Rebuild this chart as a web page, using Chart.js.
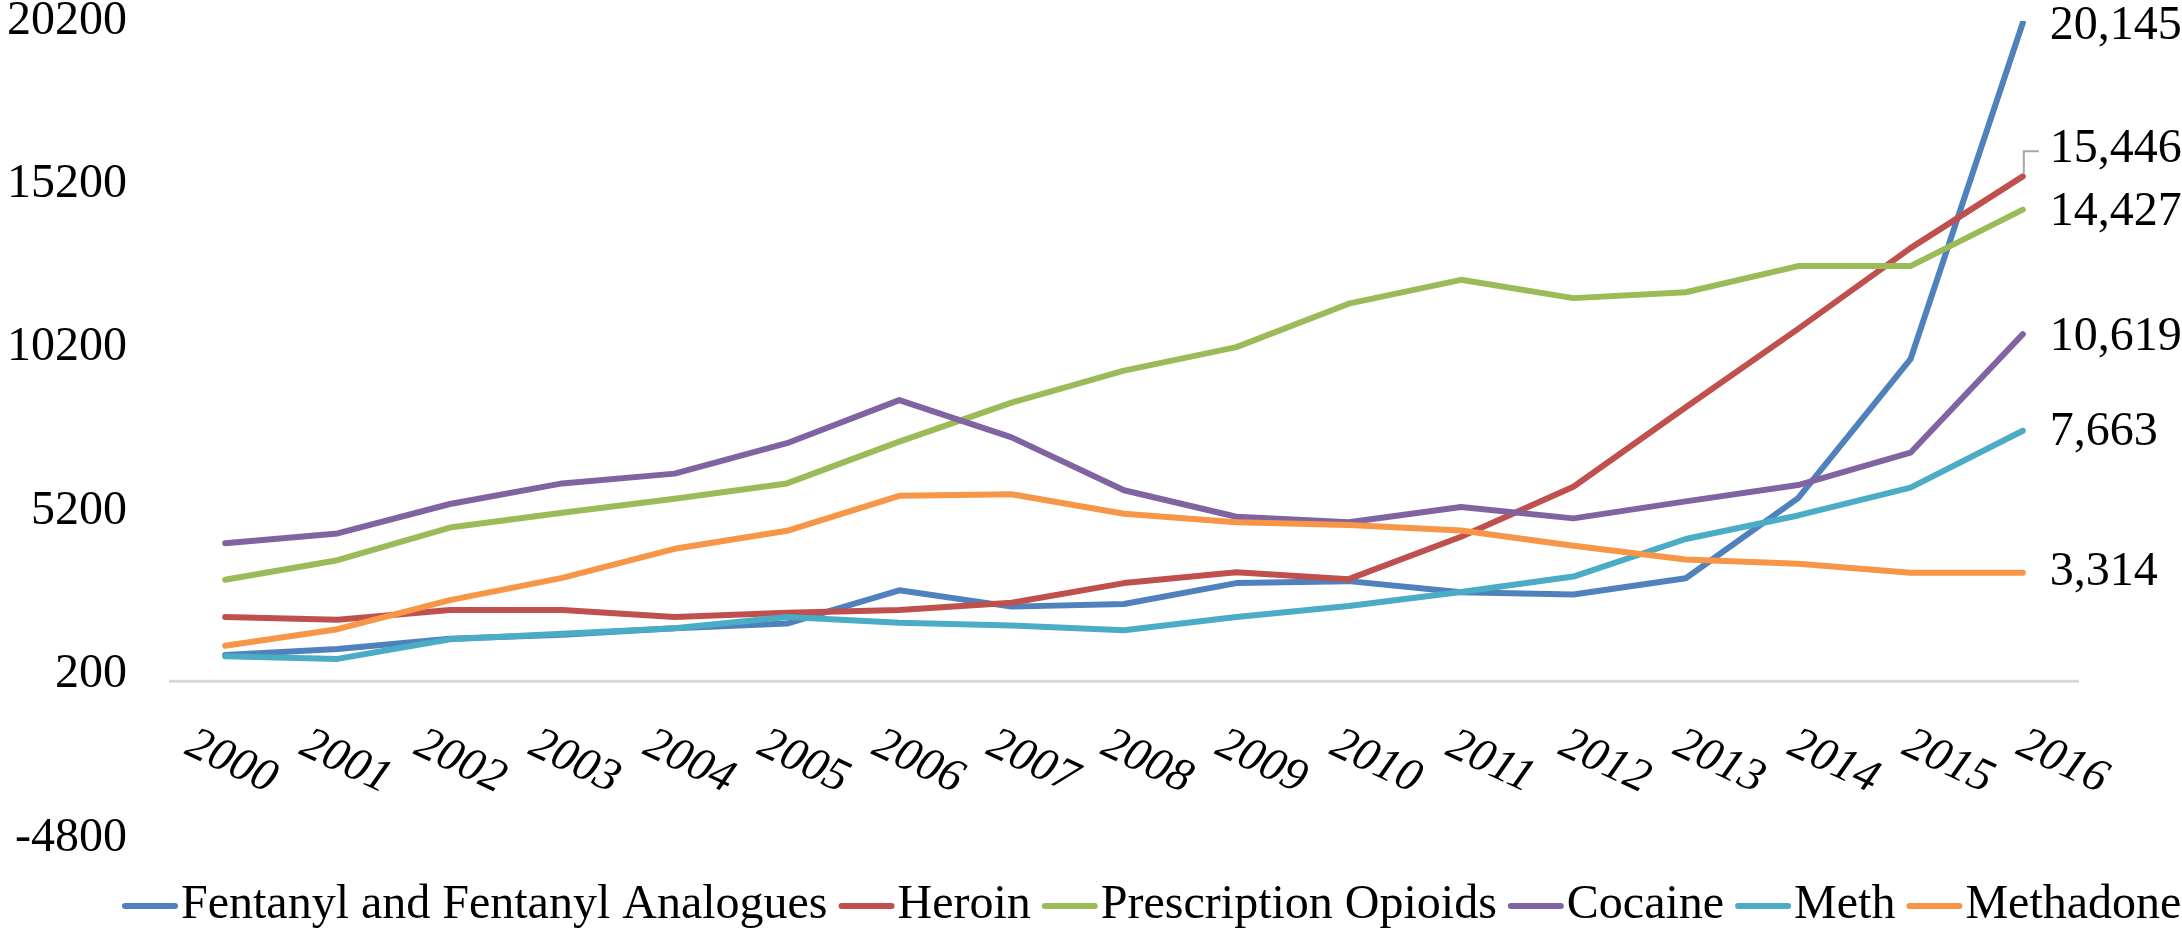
<!DOCTYPE html>
<html lang="en">
<head>
  <meta charset="UTF-8">
  <title>Overdose deaths by drug, 2000-2016</title>
  <style>
    body { margin: 0; background: #fff; }
    #wrap { width: 2182px; height: 928px; }
  </style>
  <script src="https://cdn.jsdelivr.net/npm/chart.js"></script>
</head>
<body>
  <div id="wrap"><canvas id="chart" width="2182" height="928"></canvas></div>

  <script>
    // years on the x axis
    const years = ['2000', '2001', '2002', '2003', '2004', '2005', '2006', '2007', '2008',
                   '2009', '2010', '2011', '2012', '2013', '2014', '2015', '2016'];

    // deaths per year
    const fentanyl     = [800, 980, 1300, 1420, 1620, 1760, 2780, 2280, 2360, 3000, 3060, 2720, 2650, 3150, 5600, 9850, 20145];
    const heroin       = [1960, 1880, 2180, 2180, 1960, 2090, 2180, 2400, 3000, 3330, 3120, 4420, 5950, 8380, 10780, 13250, 15446];
    const prescription = [3100, 3700, 4700, 5150, 5580, 6050, 7330, 8520, 9500, 10220, 11550, 12280, 11720, 11900, 12700, 12700, 14427];
    const cocaine      = [4220, 4520, 5420, 6050, 6350, 7280, 8600, 7460, 5840, 5030, 4860, 5330, 4980, 5500, 6000, 6990, 10619];
    const meth         = [760, 680, 1280, 1450, 1620, 1960, 1790, 1700, 1560, 1960, 2300, 2730, 3200, 4350, 5070, 5920, 7663];
    const methadone    = [1080, 1590, 2480, 3160, 4050, 4600, 5670, 5720, 5120, 4860, 4780, 4610, 4140, 3720, 3590, 3320, 3314];

    const seriesNames  = ['Fentanyl and Fentanyl Analogues', 'Heroin', 'Prescription Opioids', 'Cocaine', 'Meth', 'Methadone'];
    const seriesData   = [fentanyl, heroin, prescription, cocaine, meth, methadone];
    const seriesColors = ['#4F81BD', '#C0504D', '#9BBB59', '#8064A2', '#4BACC6', '#F79646'];

    const yTickValues = [-4800, 200, 5200, 10200, 15200, 20200];

    const SERIF = '"Liberation Serif", "Times New Roman", serif';

    // vertical nudge of the end labels (heroin is lifted and gets a leader line)
    const endLabelShift = [4, -27, 3, 3, 2, 0];

    const extras = {
      id: 'extras',
      beforeDatasetsDraw(chart) {
        // grey horizontal axis line at zero
        const { ctx, chartArea, scales: { y } } = chart;
        const yy = y.getPixelForValue(0);
        ctx.save();
        ctx.strokeStyle = '#D9D9D9';
        ctx.lineWidth = 3;
        ctx.beginPath();
        ctx.moveTo(chartArea.left, yy);
        ctx.lineTo(chartArea.right, yy);
        ctx.stroke();
        ctx.restore();
      },
      afterDraw(chart) {
        const { ctx, scales: { x } } = chart;

        // slanted year labels, spread a little wider than the points
        ctx.save();
        ctx.fillStyle = '#000';
        ctx.font = 'italic 47px ' + SERIF;
        ctx.textAlign = 'center';
        ctx.textBaseline = 'middle';
        years.forEach((yr, i) => {
          ctx.save();
          ctx.translate(x.getPixelForValue(i) + 6 + i * 2.1, 762);
          ctx.rotate(25 * Math.PI / 180);
          ctx.fillText(yr, 0, 0);
          ctx.restore();
        });
        ctx.restore();

        // values at the end of each line
        ctx.save();
        ctx.font = '48px ' + SERIF;
        ctx.fillStyle = '#000';
        ctx.textAlign = 'left';
        ctx.textBaseline = 'middle';
        chart.data.datasets.forEach((ds, i) => {
          const meta = chart.getDatasetMeta(i);
          const pt = meta.data[meta.data.length - 1];
          const last = ds.data[ds.data.length - 1];
          const ly = pt.y + endLabelShift[i];
          if (endLabelShift[i] < -10) {
            ctx.strokeStyle = '#A6A6A6';
            ctx.lineWidth = 2;
            ctx.beginPath();
            ctx.moveTo(pt.x + 1, pt.y - 3);
            ctx.lineTo(pt.x + 1, ly + 2);
            ctx.lineTo(pt.x + 16, ly + 2);
            ctx.stroke();
          }
          ctx.fillText(last.toLocaleString('en-US'), pt.x + 27, ly);
        });
        ctx.restore();

        // legend along the bottom
        ctx.save();
        ctx.font = '48px ' + SERIF;
        ctx.textAlign = 'left';
        ctx.textBaseline = 'alphabetic';
        let lx = 122;
        seriesNames.forEach((name, i) => {
          ctx.strokeStyle = seriesColors[i];
          ctx.lineWidth = 6;
          ctx.lineCap = 'round';
          ctx.beginPath();
          ctx.moveTo(lx + 3, 906);
          ctx.lineTo(lx + 53, 906);
          ctx.stroke();
          ctx.fillStyle = '#000';
          ctx.fillText(name, lx + 59, 918);
          lx += 59 + ctx.measureText(name).width + 11;
        });
        ctx.restore();
      }
    };

    const datasets = seriesData.map((d, i) => ({
      label: seriesNames[i],
      data: d,
      borderColor: seriesColors[i],
      backgroundColor: seriesColors[i],
      borderWidth: 6,
      borderCapStyle: 'round',
      borderJoinStyle: 'round',
      pointRadius: 0,
      tension: 0,
      fill: false,
      order: seriesData.length - i
    }));

    new Chart(document.getElementById('chart'), {
      type: 'line',
      data: { labels: years, datasets },
      options: {
        responsive: false,
        animation: false,
        layout: { padding: { left: 0, right: 103, top: 21, bottom: 90 } },
        plugins: {
          legend: { display: false },
          tooltip: { enabled: false }
        },
        scales: {
          x: {
            type: 'category',
            display: false,
            offset: true
          },
          y: {
            min: -4800,
            max: 20200,
            grid: { display: false, drawTicks: false },
            border: { display: false },
            afterBuildTicks: (scale) => { scale.ticks = yTickValues.map(v => ({ value: v })); },
            afterFit: (scale) => {
              scale.width = 169;
              scale.paddingTop = 0;
              scale.paddingBottom = 0;
            },
            ticks: {
              padding: 42,
              color: '#000',
              font: { family: SERIF, size: 48 },
              callback: (v) => String(v)
            }
          }
        }
      },
      plugins: [extras]
    });
  </script>
</body>
</html>
